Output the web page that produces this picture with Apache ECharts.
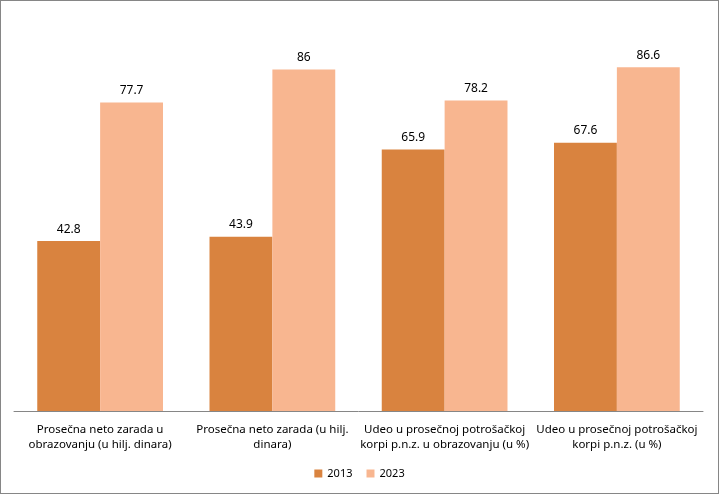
<!DOCTYPE html>
<html>
<head>
<meta charset="utf-8">
<script src="https://cdn.jsdelivr.net/npm/echarts@6/dist/echarts.min.js"></script>
<style>
    html, body { margin: 0; padding: 0; background: #fff; }
    #chart {
        width: 719px;
        height: 494px;
        box-sizing: border-box;
        border: 1px solid #868686;
    }
</style>
</head>
<body>
<div id="chart"></div>
<script>
    // kategorije i vrednosti
    var categories = [
        'Prosečna neto zarada u\nobrazovanju (u hilj. dinara)',
        'Prosečna neto zarada (u hilj.\ndinara)',
        'Udeo u prosečnoj potrošačkoj\nkorpi p.n.z. u obrazovanju (u %)',
        'Udeo u prosečnoj potrošačkoj\nkorpi p.n.z. (u %)'
    ];
    var values2013 = [42.8, 43.9, 65.9, 67.6];
    var values2023 = [77.7, 86, 78.2, 86.6];

    var myChart = echarts.init(document.getElementById('chart'));

    var labelStyle = {
        show: true,
        position: 'top',
        distance: 6,
        color: '#000',
        fontSize: 12,
        fontFamily: 'Noto Sans'
    };

    var option = {
        animation: false,
        backgroundColor: '#fff',
        textStyle: { fontFamily: 'Noto Sans' },
        grid: {
            left: 13,
            right: 15,
            top: 13,
            bottom: 82,
            containLabel: false
        },
        legend: {
            bottom: 9,
            left: 'center',
            itemWidth: 8,
            itemHeight: 8,
            itemGap: 14,
            icon: 'rect',
            textStyle: { fontSize: 11, color: '#000' },
            data: ['2013', '2023']
        },
        xAxis: {
            type: 'category',
            data: categories,
            axisLine: { lineStyle: { color: '#868686', width: 1 } },
            axisTick: { show: false },
            axisLabel: {
                interval: 0,
                color: '#000',
                fontSize: 11.5,
                lineHeight: 15,
                margin: 11
            }
        },
        yAxis: {
            type: 'value',
            min: 0,
            max: 100,
            show: false,
            splitLine: { show: false }
        },
        series: [
            {
                name: '2013',
                type: 'bar',
                data: values2013,
                barGap: '0%',
                barCategoryGap: '27%',
                itemStyle: { color: '#D9833F' },
                label: labelStyle
            },
            {
                name: '2023',
                type: 'bar',
                data: values2023,
                itemStyle: { color: '#F8B690' },
                label: labelStyle
            }
        ]
    };

    myChart.setOption(option);
</script>
</body>
</html>
